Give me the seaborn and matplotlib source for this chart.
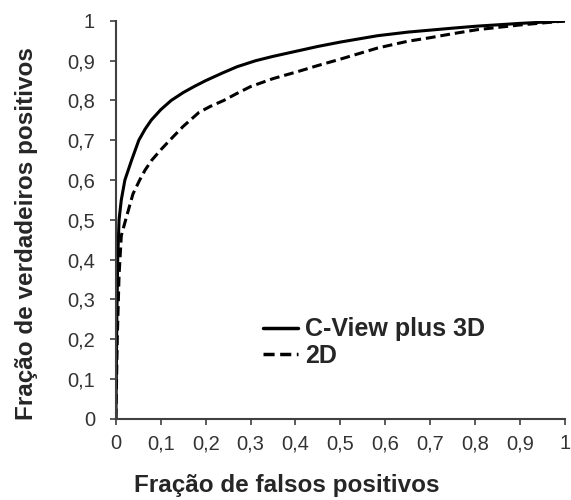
import matplotlib
matplotlib.use("Agg")
import matplotlib.pyplot as plt
import pandas as pd
import seaborn as sns

# ROC curves
x_cview = [0, 0.002, 0.004, 0.007, 0.012, 0.02, 0.035, 0.051, 0.065, 0.079, 0.1, 0.123, 0.15,
           0.174, 0.2, 0.237, 0.27, 0.311, 0.35, 0.406, 0.45, 0.5, 0.583, 0.65, 0.7, 0.75,
           0.804, 0.9, 1.0]
y_cview = [0, 0.25, 0.40, 0.50, 0.55, 0.60, 0.65, 0.70, 0.728, 0.751, 0.777, 0.80, 0.82,
           0.835, 0.85, 0.869, 0.885, 0.90, 0.911, 0.925, 0.936, 0.947, 0.963, 0.972, 0.977, 0.982,
           0.987, 0.994, 1.0]

x_2d = [0, 0.003, 0.007, 0.012, 0.023, 0.038, 0.053, 0.065, 0.08, 0.1, 0.12, 0.15, 0.185,
        0.21, 0.24, 0.27, 0.30, 0.35, 0.406, 0.45, 0.5, 0.583, 0.65, 0.7, 0.75, 0.804, 0.9, 1.0]
y_2d = [0, 0.2, 0.36, 0.46, 0.505, 0.565, 0.60, 0.625, 0.65, 0.676, 0.70, 0.735, 0.77,
        0.785, 0.80, 0.818, 0.835, 0.855, 0.873, 0.888, 0.904, 0.932, 0.949, 0.958, 0.968, 0.978, 0.99, 1.0]

series_names = ["C-View plus 3D", "2D"]
ticks = [0, 0.1, 0.2, 0.3, 0.4, 0.5, 0.6, 0.7, 0.8, 0.9, 1]
tick_labels = ["0", "0,1", "0,2", "0,3", "0,4", "0,5", "0,6", "0,7", "0,8", "0,9", "1"]

df = pd.concat([
    pd.DataFrame({"fp": x_cview, "tp": y_cview, "serie": series_names[0]}),
    pd.DataFrame({"fp": x_2d, "tp": y_2d, "serie": series_names[1]}),
])

sns.set_style("ticks")
plt.rcParams["font.family"] = ["Liberation Sans", "DejaVu Sans"]

fig = plt.figure(figsize=(5.71, 5.0), dpi=100)
ax = fig.add_axes([0.203, 0.163, 0.786, 0.795])

sns.lineplot(
    data=df, x="fp", y="tp", hue="serie", style="serie",
    palette={n: "black" for n in series_names},
    dashes={series_names[0]: "", series_names[1]: (3.2, 1.6)},
    linewidth=2.2, estimator=None, sort=False, ax=ax,
)
for line in ax.get_lines():
    line.set_solid_joinstyle("round")
    line.set_dash_joinstyle("round")

ax.set_xlim(0, 1)
ax.set_ylim(0, 1)
ax.set_xticks(ticks)
ax.set_xticklabels(tick_labels)
ax.set_yticks(ticks)
ax.set_yticklabels(tick_labels)
ax.tick_params(direction="out", length=4.5, width=1.2, color="#404040",
               labelsize=14.5, labelcolor="#333333")
ax.tick_params(axis="x", pad=7)
ax.tick_params(axis="y", pad=10.5)
for side in ["top", "right"]:
    ax.spines[side].set_visible(False)
for side in ["left", "bottom"]:
    ax.spines[side].set_color("#404040")
    ax.spines[side].set_linewidth(1.5)

ax.set_xlabel("Fração de falsos positivos", fontsize=17.5, fontweight="bold", va="baseline")
ax.xaxis.set_label_coords(0.38, -0.186)
ax.set_ylabel("Fração de verdadeiros positivos", fontsize=17.5, fontweight="bold", va="baseline")
ax.yaxis.set_label_coords(-0.185, 0.465)

leg = ax.legend(loc="center left", bbox_to_anchor=(0.3275, 0.191), frameon=False,
                handlelength=1.4, handletextpad=0.28, borderpad=0, borderaxespad=0,
                labelspacing=0.1, prop={"size": 18, "weight": "bold"})
for line in leg.get_lines():
    line.set_linewidth(2.5)

fig.savefig("out.png", dpi=100)
